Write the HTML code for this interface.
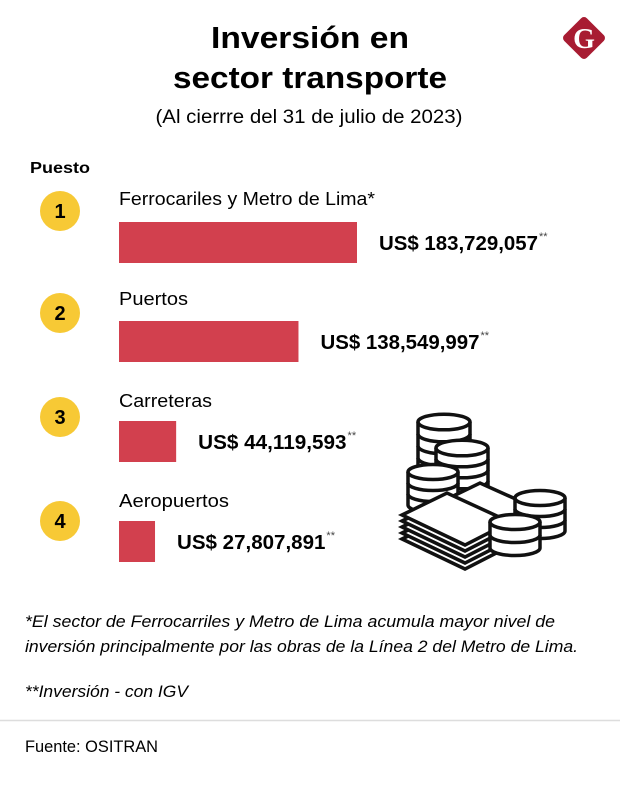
<!DOCTYPE html>
<html><head><meta charset="utf-8"><style>
html,body{margin:0;padding:0;background:#fff;}
svg{display:block;font-family:"Liberation Sans",sans-serif;}
</style></head><body>
<svg id="chart" width="620" height="796" viewBox="0 0 620 796">
<text x="310" y="48" text-anchor="middle" font-size="31" font-weight="bold" textLength="198" lengthAdjust="spacingAndGlyphs">Inversión en</text>
<text x="310" y="88" text-anchor="middle" font-size="31" font-weight="bold" textLength="274" lengthAdjust="spacingAndGlyphs">sector transporte</text>
<text x="309" y="123" text-anchor="middle" font-size="19" textLength="307" lengthAdjust="spacingAndGlyphs">(Al cierrre del 31 de julio de 2023)</text>
<g>
<rect x="568" y="22" width="32" height="32" rx="4" fill="#a81c32" transform="rotate(45 584 38)"/>
<text x="584" y="48" text-anchor="middle" font-size="28" font-weight="bold" fill="#fff" font-family="Liberation Serif,serif">G</text>
</g>
<text x="30" y="173" font-size="16" font-weight="bold" textLength="60" lengthAdjust="spacingAndGlyphs">Puesto</text>
<g id="bars"></g>
<g fill="#fff" stroke="#111" stroke-width="3.5">
<g id="coins"></g>
</g>
<text x="25" y="627" font-size="17" font-style="italic" textLength="530" lengthAdjust="spacingAndGlyphs">*El sector de Ferrocarriles y Metro de Lima acumula mayor nivel de</text>
<text x="25" y="652" font-size="17" font-style="italic" textLength="553" lengthAdjust="spacingAndGlyphs">inversión principalmente por las obras de la Línea 2 del Metro de Lima.</text>
<text x="25" y="697" font-size="17" font-style="italic" textLength="163" lengthAdjust="spacingAndGlyphs">**Inversión - con IGV</text>
<line x1="0" y1="720.5" x2="620" y2="720.5" stroke="#ddd" stroke-width="1.5"/>
<text x="25" y="752" font-size="17" textLength="133" lengthAdjust="spacingAndGlyphs">Fuente: OSITRAN</text>
</svg>
<script>
const categories=["Ferrocariles  y Metro de Lima*","Puertos","Carreteras","Aeropuertos"];
const ranks=["1","2","3","4"];
const values=[183729057,138549997,44119593,27807891];
const valueLabels=["US$ 183,729,057","US$ 138,549,997","US$ 44,119,593","US$ 27,807,891"];
const NS="http://www.w3.org/2000/svg";
const x0=119, scale=238/183729057;
function xs(v){return v*scale;}
const g=document.getElementById('bars');
function mk(t,a,p){const e=document.createElementNS(NS,t);for(const k in a)e.setAttribute(k,a[k]);(p||g).appendChild(e);return e;}
const rowTop=[211,313,417,521];
const barTop=[222,321,421,521];
const labelY=[205,305,407,507];
const labelLen=[256,69,93,110];
categories.forEach((c,i)=>{
 const cy=rowTop[i];
 const circ=mk('circle',{cx:60,cy:cy,r:20,fill:'#f7c935'});
 
 
 const rt=mk('text',{x:60,y:cy+7,'text-anchor':'middle','font-size':20,'font-weight':'bold'});rt.textContent=ranks[i];
 
 
 const lt=mk('text',{x:119,y:labelY[i],'font-size':18,textLength:labelLen[i],lengthAdjust:'spacingAndGlyphs'});lt.textContent=c;
 
 
 const by=barTop[i];
 const w=xs(values[i]);
 const r=mk('rect',{x:x0,y:by,width:w,height:41,fill:'#d2404e'});
 
 
 const vt=mk('text',{x:x0+w+22,y:by+28,'font-size':20,'font-weight':'bold',textLength:valueLabels[i].length*10.6,lengthAdjust:'spacingAndGlyphs'});vt.textContent=valueLabels[i];
 
 
 const st=mk('text',{x:x0+w+22+valueLabels[i].length*10.6+1,y:by+18,'font-size':11,fill:'#444'});st.textContent='**';
 
 
});
const cg=document.getElementById('coins');
function stack(cx,top,rx,n,h){
 const ry=rx*0.3, bottom=top+n*h;
 mk('path',{d:`M${cx-rx} ${top} L${cx-rx} ${bottom} A${rx} ${ry} 0 0 0 ${cx+rx} ${bottom} L${cx+rx} ${top}`},cg);
 for(let k=1;k<n;k++)mk('path',{d:`M${cx-rx} ${top+k*h} A${rx} ${ry} 0 0 0 ${cx+rx} ${top+k*h}`,fill:'none'},cg);
 mk('ellipse',{cx:cx,cy:top,rx:rx,ry:ry},cg);
}
stack(444,422,26,4,12);
stack(462,448,26,4,11);
stack(433,472,25,3,11);
mk('polygon',{points:'445,500 480,483 540,510 505,528'},cg);
for(let k=4;k>=0;k--){mk('polygon',{points:`402,${515+k*6} 447,${493+k*6} 510,${522+k*6} 465,${545+k*6}`},cg);}
stack(540,498,25,3,11);
stack(515,522,25,2,13);
</script>
</body></html>
